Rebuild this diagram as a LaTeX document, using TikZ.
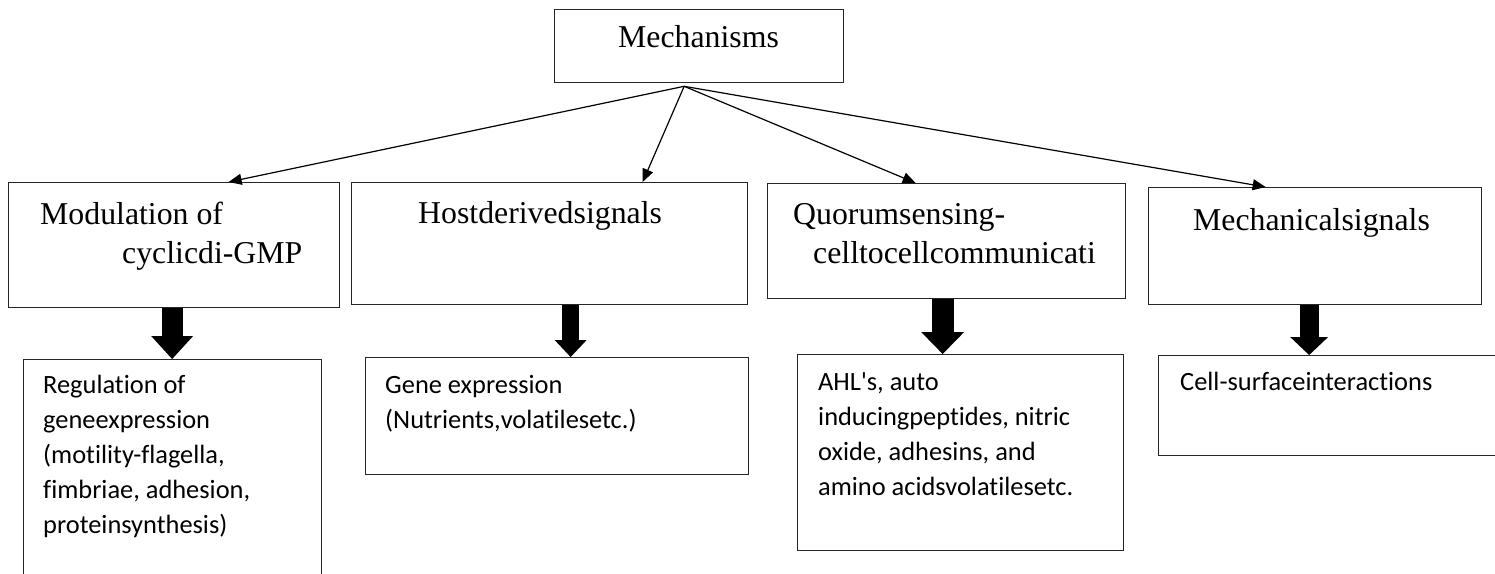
\documentclass[tikz,border=0pt]{standalone}
\usepackage{fontspec}
\setmainfont{Liberation Serif}
\newfontfamily\mcsans[Ligatures=NoCommon]{Carlito}
\usetikzlibrary{arrows.meta}
\tikzset{
  mcbox/.style={
    rectangle, draw=black!85, line width=1.3pt, inner sep=0pt, anchor=north west
  },
  mchead/.style={
    font=\fontsize{31.8}{39}\selectfont, align=left, inner sep=0pt, anchor=base west
  },
  mcnote/.style={
    font=\mcsans\fontsize{26.4}{35}\selectfont, align=left, inner sep=0pt, anchor=base west
  },
  mcedge/.style={-{Triangle[length=13pt,width=11pt]},line width=1.2pt},
  mcblock/.style n args={3}{
    line width=#1, line cap=butt,
    -{Triangle[length=#3,width=#2,line width=0pt]}
  }
}

\begin{document}
\begin{tikzpicture}[x=1pt,y=-1pt]
  \useasboundingbox (0,0) rectangle (1495,573);
  % boxes
  \node[mcbox,minimum width=289pt,minimum height=73pt] (mech) at (554,9) {};
  \node[mcbox,minimum width=331pt,minimum height=125pt] (mod) at (8,182) {};
  \node[mcbox,minimum width=396pt,minimum height=122pt] (host) at (351,182) {};
  \node[mcbox,minimum width=358pt,minimum height=115pt] (quorum) at (767,183) {};
  \node[mcbox,minimum width=333pt,minimum height=117pt] (mechsig) at (1148,187) {};
  \node[mcbox,minimum width=298pt,minimum height=231pt] (modout) at (23,359) {};
  \node[mcbox,minimum width=383pt,minimum height=117pt] (hostout) at (365,357) {};
  \node[mcbox,minimum width=326pt,minimum height=196pt] (quorumout) at (797,354) {};
  \node[mcbox,minimum width=342pt,minimum height=100pt] (mechsigout) at (1158,355) {};
  % texts (base = last line)
  \node[mchead,anchor=base] (tmech) at (698.5,47) {Mechanisms};
  \node[mchead] (tmod) at (40,263) {Modulation of\\\hspace*{82pt}cyclicdi-GMP};
  \node[mchead] (thost) at (418,223) {Hostderivedsignals};
  \node[mchead] (tquorum) at (793,263) {Quorumsensing-\\\hspace*{20pt}celltocellcommunicati};
  \node[mchead] (tmechsig) at (1193,230) {Mechanicalsignals};
  \node[mcnote] (tmodout) at (43,533) {Regulation of\\geneexpression\\(motility-flagella,\\fimbriae, adhesion,\\proteinsynthesis)};
  \node[mcnote] (thostout) at (385,428) {Gene expression\\(Nutrients,volatilesetc.)};
  \node[mcnote] (tquorumout) at (818,495) {AHL's, auto\\inducingpeptides, nitric\\oxide, adhesins, and\\amino acidsvolatilesetc.};
  \node[mcnote] (tmechsigout) at (1180,390) {Cell-surfaceinteractions};
  % connectors
  \coordinate (hub) at ([xshift=-15pt,yshift=-3pt]mech.south);
  \draw[mcedge] (hub) -- ([xshift=54.5pt]mod.north);
  \draw[mcedge] (hub) -- ([xshift=93pt]host.north);
  \draw[mcedge] (hub) -- ([xshift=-31pt]quorum.north);
  \draw[mcedge] (hub) -- ([xshift=-49.5pt]mechsig.north);
  \draw[mcblock={21pt}{42pt}{23pt}] ([xshift=-2pt]mod.south) -- ([xshift=-2pt]mod.south |- modout.north);
  \draw[mcblock={17pt}{32pt}{17pt}] ([xshift=21pt]host.south) -- ([xshift=21pt]host.south |- hostout.north);
  \draw[mcblock={22pt}{43pt}{22pt}] ([xshift=-4pt]quorum.south) -- ([xshift=-4pt]quorum.south |- quorumout.north);
  \draw[mcblock={19pt}{38pt}{18pt}] ([xshift=-6pt]mechsig.south) -- ([xshift=-6pt]mechsig.south |- mechsigout.north);
\end{tikzpicture}
\end{document}
